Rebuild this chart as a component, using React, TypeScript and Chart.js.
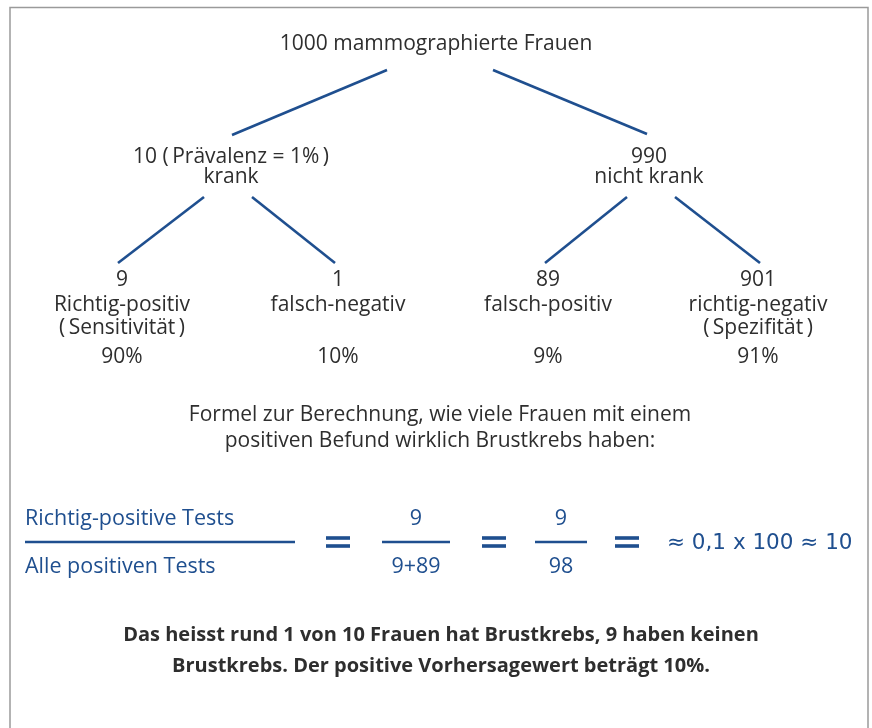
import React, { useEffect, useRef } from "react";
import { Chart, registerables } from "chart.js";

Chart.register(...registerables);

// ---- data ----
const rootLabel = "1000 mammographierte Frauen";
const level1Counts = ["10 (\u2009Prävalenz = 1%\u2009)", "990"];
const level1Labels = ["krank", "nicht krank"];
const leafCounts = ["9", "1", "89", "901"];
const leafLabels = ["Richtig-positiv", "falsch-negativ", "falsch-positiv", "richtig-negativ"];
const leafSubLabels = ["(\u2009Sensitivität\u2009)", "", "", "(\u2009Spezifität\u2009)"];
const leafPercents = ["90%", "10%", "9%", "91%"];

const formulaIntro = [
  "Formel zur Berechnung, wie viele Frauen mit einem",
  "positiven Befund wirklich Brustkrebs haben:",
];
const fractionNumerators = ["Richtig-positive Tests", "9", "9"];
const fractionDenominators = ["Alle positiven Tests", "9+89", "98"];
const formulaResult = "≈ 0,1 x 100 ≈ 10";
const conclusion = [
  "Das heisst rund 1 von 10 Frauen hat Brustkrebs, 9 haben keinen",
  "Brustkrebs. Der positive Vorhersagewert beträgt 10%.",
];

// ---- layout (diagram coordinates) ----
const W = 872;
const H = 728;
const rootX = 436;
const level1X = [231, 649];
const leafX = [122, 338, 548, 758];
const rootEdges = [
  [387, 70, 232, 135],
  [493, 70, 647, 134],
];
const leafEdges = [
  [204, 197, 118, 263],
  [252, 197, 335, 263],
  [627, 197, 545, 263],
  [675, 197, 760, 263],
];
const fractionBars = [
  [25, 295],
  [382, 450],
  [535, 587],
];
const fractionCenters = [null, 416, 561];
const equalsX = [338, 494, 627];
const barY = 542;

const TEXT = "#2e2e2e";
const BLUE = "#1f4f8f";
const FONT = "'Open Sans', 'Noto Sans', sans-serif";

type Label = { t: string; x: number; y: number; font: string; color: string; align: CanvasTextAlign };

function buildLabels(): Label[] {
  const L: Label[] = [];
  const reg = `21px ${FONT}`;
  const form = `21.5px ${FONT}`;
  L.push({ t: rootLabel, x: rootX, y: 50, font: reg, color: TEXT, align: "center" });
  level1Counts.forEach((t, i) => {
    L.push({ t, x: level1X[i], y: 163, font: reg, color: TEXT, align: "center" });
    L.push({ t: level1Labels[i], x: level1X[i], y: 183, font: reg, color: TEXT, align: "center" });
  });
  leafCounts.forEach((t, i) => {
    L.push({ t, x: leafX[i], y: 286, font: reg, color: TEXT, align: "center" });
    L.push({ t: leafLabels[i], x: leafX[i], y: 311, font: reg, color: TEXT, align: "center" });
    if (leafSubLabels[i]) L.push({ t: leafSubLabels[i], x: leafX[i], y: 334, font: reg, color: TEXT, align: "center" });
    L.push({ t: leafPercents[i], x: leafX[i], y: 363, font: reg, color: TEXT, align: "center" });
  });
  formulaIntro.forEach((t, i) => {
    L.push({ t, x: 440, y: 421 + i * 26, font: reg, color: TEXT, align: "center" });
  });
  fractionNumerators.forEach((t, i) => {
    const c = fractionCenters[i];
    L.push({ t, x: c ?? fractionBars[i][0], y: 525, font: form, color: BLUE, align: c == null ? "left" : "center" });
    L.push({ t: fractionDenominators[i], x: c ?? fractionBars[i][0], y: 573, font: form, color: BLUE, align: c == null ? "left" : "center" });
  });
  L.push({ t: formulaResult, x: 667, y: 549, font: `21.5px 'DejaVu Sans', sans-serif`, color: BLUE, align: "left" });
  conclusion.forEach((t, i) => {
    L.push({ t, x: 441, y: 641 + i * 31, font: `bold 20px ${FONT}`, color: TEXT, align: "center" });
  });
  return L;
}

const seg = (a: number[]) => ({
  data: [
    { x: a[0], y: a[1] },
    { x: a[2], y: a[3] },
  ],
  showLine: true,
  borderColor: BLUE,
  borderWidth: 2.6,
  pointRadius: 0,
  borderCapStyle: "butt" as const,
});

export default function App() {
  const ref = useRef<HTMLCanvasElement | null>(null);
  useEffect(() => {
    document.body.style.margin = "0";
    const labels = buildLabels();
    const datasets: any[] = [];
    rootEdges.forEach((e) => datasets.push(seg(e)));
    leafEdges.forEach((e) => datasets.push(seg(e)));
    fractionBars.forEach((b) => datasets.push({ ...seg([b[0], barY, b[1], barY]), borderWidth: 2.4 }));
    equalsX.forEach((x) => {
      datasets.push({ ...seg([x - 12, barY - 4, x + 12, barY - 4]), borderWidth: 3.6 });
      datasets.push({ ...seg([x - 12, barY + 4, x + 12, barY + 4]), borderWidth: 3.6 });
    });

    const overlay = {
      id: "overlay",
      beforeDraw(chart: any) {
        const c = chart.ctx;
        c.save();
        c.fillStyle = "#ffffff";
        c.fillRect(0, 0, chart.width, chart.height);
        const sx = chart.scales.x, sy = chart.scales.y;
        c.strokeStyle = "#9a9a9a";
        c.lineWidth = 1.5;
        c.beginPath();
        c.moveTo(sx.getPixelForValue(10), sy.getPixelForValue(H + 5));
        c.lineTo(sx.getPixelForValue(10), sy.getPixelForValue(7.5));
        c.lineTo(sx.getPixelForValue(868), sy.getPixelForValue(7.5));
        c.lineTo(sx.getPixelForValue(868), sy.getPixelForValue(H + 5));
        c.stroke();
        c.restore();
      },
      afterDraw(chart: any) {
        const c = chart.ctx;
        const sx = chart.scales.x, sy = chart.scales.y;
        c.save();
        c.textBaseline = "alphabetic";
        labels.forEach((l) => {
          c.font = l.font;
          c.fillStyle = l.color;
          c.textAlign = l.align;
          c.fillText(l.t, sx.getPixelForValue(l.x), sy.getPixelForValue(l.y));
        });
        c.restore();
      },
    };

    const chart = new Chart(ref.current!, {
      type: "scatter",
      data: { datasets },
      options: {
        animation: false,
        responsive: false,
        devicePixelRatio: 1,
        layout: { padding: 0 },
        plugins: { legend: { display: false }, tooltip: { enabled: false } },
        scales: {
          x: { type: "linear", min: 0, max: W, display: false },
          y: { type: "linear", min: 0, max: H, reverse: true, display: false },
        },
      },
      plugins: [overlay],
    });
    return () => chart.destroy();
  }, []);
  return <canvas ref={ref} width={W} height={H} style={{ display: "block" }} />;
}
